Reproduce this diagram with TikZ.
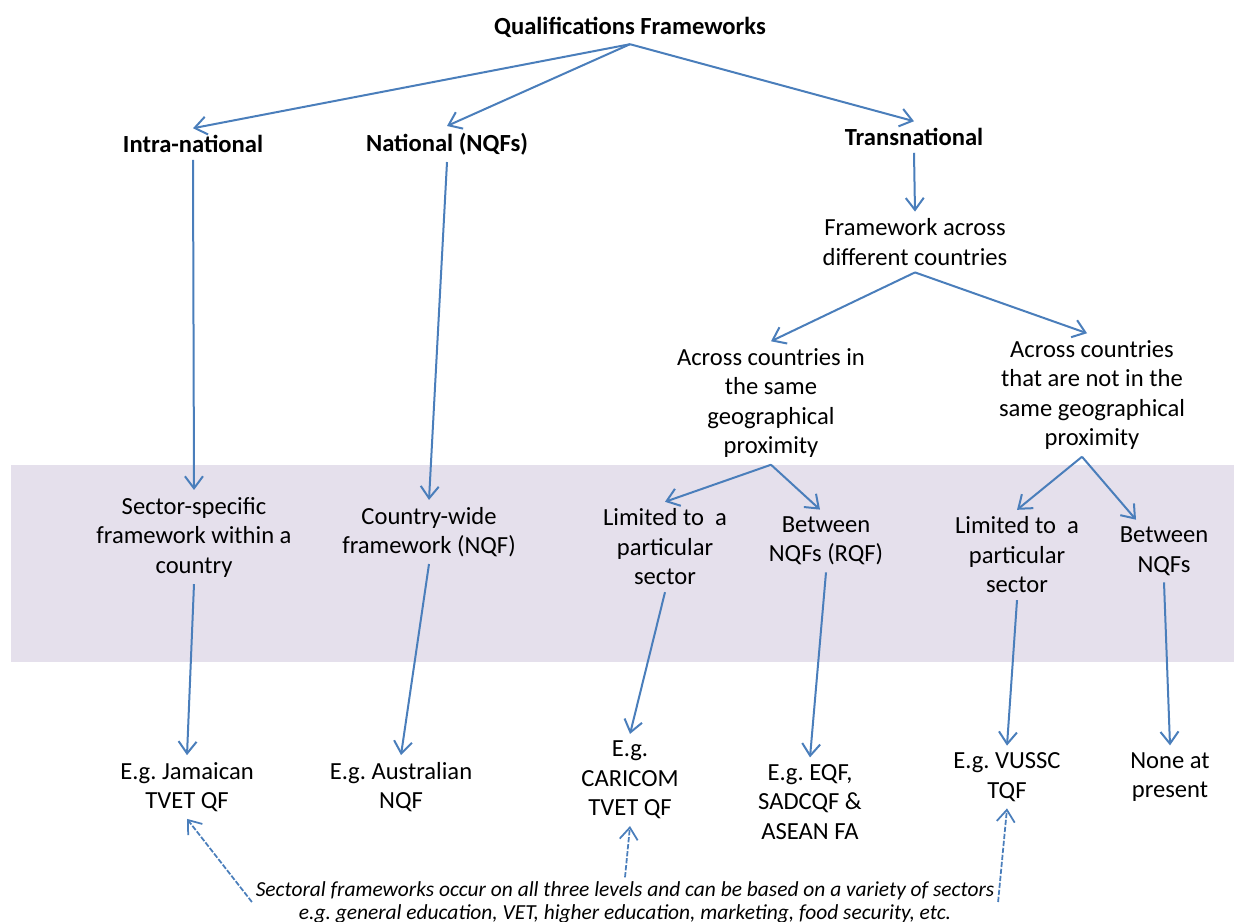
\documentclass[tikz,border=0pt]{standalone}
\usepackage{fontspec}
\setmainfont{Carlito}
\usetikzlibrary{positioning}
\usetikzlibrary{arrows.meta}
\definecolor{arrowblue}{HTML}{4A7EBB}
\definecolor{bandlilac}{HTML}{E5E0EC}
\frenchspacing

\begin{document}
\begin{tikzpicture}[x=0.02cm,y=-0.02cm,
                    textnode/.style={align=center,
                                     inner sep=2pt,outer sep=2pt,
                                     font=\fontsize{14}{16.8}\selectfont
                                    },
                    headnode/.style={textnode,
                                     font=\fontsize{14}{16.8}\selectfont\bfseries
                                    },
                    notenode/.style={align=center,inner sep=2pt,
                                     font=\fontsize{12.2}{13.1}\selectfont\itshape
                                    },
                    flowconnection/.style={
                                    draw=arrowblue,
                                    line width=0.4mm,
                                    -{Straight Barb[length=2.4mm,width=3.6mm]}
                                    },
                    noteconnection/.style={
                                    flowconnection,
                                    line width=0.35mm,
                                    dash pattern=on 3pt off 1pt
                                    }
                     ]
\useasboundingbox (0,0) rectangle (1234,922);
% band behind the middle row
\fill[bandlilac] (11,465) rectangle (1234,662);

% top levels
\node[headnode] (qf) at (630,27) {Qualifications Frameworks};
\node[headnode] (intra) at (193,144) {Intra-national};
\node[headnode] (national) at (447,144) {National (NQFs)};
\node[headnode] (trans) at (914,137) {Transnational};
\node[textnode] (across) at (915,242) {Framework across\\different countries};
\node[textnode] (samegeo) at (771,403) {Across countries in\\the same\\geographical\\proximity};
\node[textnode] (notsame) at (1092,395) {Across countries\\that are not in the\\same geographical\\proximity};

% middle row
\node[textnode] (sector) at (194,537) {Sector-specific\\framework within a\\country};
\node[textnode] (countrywide) at (429,532) {Country-wide\\framework (NQF)};
\node[textnode] (limitedA) at (665,547) {Limited to\ \ a\\particular\\sector};
\node[textnode] (betweenA) at (826,541) {Between\\NQFs (RQF)};
\node[textnode] (limitedB) at (1017,555) {Limited to\ \ a\\particular\\sector};
\node[textnode] (betweenB) at (1164,551) {Between\\NQFs};

% examples
\node[textnode] (jamaica) at (187,787) {E.g. Jamaican\\TVET QF};
\node[textnode] (australia) at (401,787) {E.g. Australian\\NQF};
\node[textnode] (caricom) at (630,780) {E.g.\\CARICOM\\TVET QF};
\node[textnode] (eqf) at (810,802) {E.g. EQF,\\SADCQF \&\\ASEAN FA};
\node[textnode] (vussc) at (1007,777) {E.g. VUSSC\\TQF};
\node[textnode] (none) at (1170,777) {None at\\present};

\node[notenode] (note) at (625,902) {Sectoral frameworks occur on all three levels and can be based on a variety of sectors\\e.g. general education, VET, higher education, marketing, food security, etc.};

\draw[flowconnection] (qf.south) -- (intra.north);
\draw[flowconnection] (qf.south) -- (national.north);
\draw[flowconnection] (qf.south) -- (trans.north);
\draw[flowconnection] (intra.south) -- (sector.north);
\draw[flowconnection] (national.south) -- (countrywide.north);
\draw[flowconnection] (trans.south) -- (across.north);
\draw[flowconnection] (across.south) -- (samegeo.north);
\draw[flowconnection] (across.south) -- ([xshift=-0.1cm]notsame.north);
\draw[flowconnection] (samegeo.south) -- (limitedA.north);
\draw[flowconnection] (samegeo.south) -- ([xshift=-0.12cm]betweenA.north);
\draw[flowconnection] ([xshift=-0.2cm]notsame.south) -- (limitedB.north);
\draw[flowconnection] ([xshift=-0.2cm]notsame.south) -- ([xshift=-0.56cm]betweenB.north);
\draw[flowconnection] (sector.south) -- (jamaica.north);
\draw[flowconnection] (countrywide.south) -- (australia.north);
\draw[flowconnection] (limitedA.south) -- (caricom.north);
\draw[flowconnection] (betweenA.south) -- (eqf.north);
\draw[flowconnection] (limitedB.south) -- (vussc.north);
\draw[flowconnection] (betweenB.south) -- (none.north);

\draw[noteconnection] (note.west) -- (jamaica.south);
\draw[noteconnection] (note.north) -- (caricom.south);
\draw[noteconnection] (note.east) -- (vussc.south);
\end{tikzpicture}
\end{document}
